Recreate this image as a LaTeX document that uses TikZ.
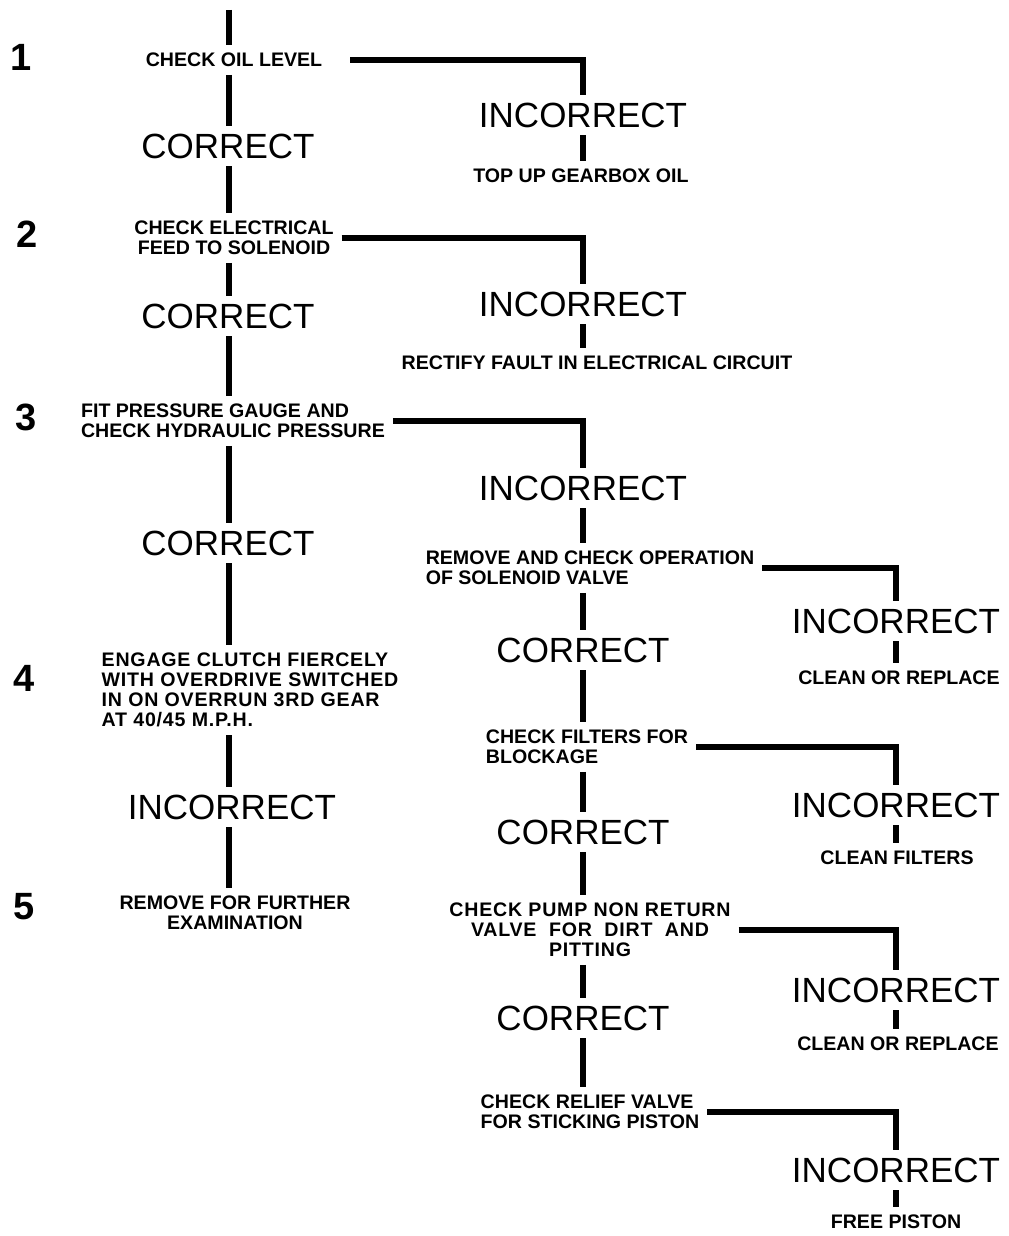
\documentclass[tikz,border=0pt]{standalone}
\usepackage{fontspec}
\setmainfont{Liberation Sans}
\begin{document}
\begin{tikzpicture}[x=0.5pt,y=-0.5pt,
    test/.style={font=\bfseries\fontsize{9.8}{10}\selectfont,align=center,inner sep=0pt,outer sep=4pt},
    testl/.style={test,align=left},
    wide/.style={font=\bfseries\fontsize{9.8}{10}\selectfont\addfontfeature{LetterSpace=4}},
    answer/.style={font=\fontsize{17.5}{18}\selectfont,inner sep=0pt,outer sep=4pt},
    stepno/.style={font=\bfseries\fontsize{19}{19}\selectfont,inner sep=0pt},
    wire/.style={line width=3.4pt}]
    \useasboundingbox (0,0) rectangle (1008,1236);
    % step numbers
    \node[stepno] (n1) at (21,57) {1};
    \node[stepno] (n2) at (27,234) {2};
    \node[stepno] (n3) at (26,417) {3};
    \node[stepno] (n4) at (24,678) {4};
    \node[stepno] (n5) at (24,907) {5};
    % main column
    \coordinate (top) at (229,10);
    \node[test] (s1) at (234,60) {CHECK OIL LEVEL};
    \node[answer] (c1) at (228,146) {CORRECT};
    \node[test] (s2) at (234,238) {CHECK ELECTRICAL\\FEED TO SOLENOID};
    \node[answer] (c2) at (228,316) {CORRECT};
    \node[testl] (s3) at (233,421) {FIT PRESSURE GAUGE AND\\CHECK HYDRAULIC PRESSURE};
    \node[answer] (c3) at (228,543) {CORRECT};
    \node[testl,wide] (s4) at (250,690) {ENGAGE CLUTCH FIERCELY\\WITH OVERDRIVE SWITCHED\\IN ON OVERRUN 3RD GEAR\\AT 40/45 M.P.H.};
    \node[answer] (c4) at (232,807) {INCORRECT};
    \node[test] (s5) at (235,913) {REMOVE FOR FURTHER\\EXAMINATION};
    % second column
    \node[answer] (i1) at (583,115) {INCORRECT};
    \node[test] (r1) at (581,176) {TOP UP GEARBOX OIL};
    \node[answer] (i2) at (583,304) {INCORRECT};
    \node[test] (r2) at (597,363) {RECTIFY FAULT IN ELECTRICAL CIRCUIT};
    \node[answer] (i3) at (583,488) {INCORRECT};
    \node[testl] (s6) at (590,568) {REMOVE AND CHECK OPERATION\\OF SOLENOID VALVE};
    \node[answer] (c6) at (583,650) {CORRECT};
    \node[testl] (s7) at (587,747) {CHECK FILTERS FOR\\BLOCKAGE};
    \node[answer] (c7) at (583,832) {CORRECT};
    \node[test,wide] (s8) at (590,930) {CHECK PUMP NON RETURN\\VALVE\ \ FOR\ \ DIRT\ \ AND\\PITTING};
    \node[answer] (c8) at (583,1018) {CORRECT};
    \node[testl] (s9) at (590,1112) {CHECK RELIEF VALVE\\FOR STICKING PISTON};
    % third column
    \node[answer] (i6) at (896,621) {INCORRECT};
    \node[test] (r6) at (899,678) {CLEAN OR REPLACE};
    \node[answer] (i7) at (896,805) {INCORRECT};
    \node[test] (r7) at (897,858) {CLEAN FILTERS};
    \node[answer] (i8) at (896,990) {INCORRECT};
    \node[test] (r8) at (898,1044) {CLEAN OR REPLACE};
    \node[answer] (i9) at (896,1170) {INCORRECT};
    \node[test] (r9) at (896,1222) {FREE PISTON};
    % main line
    \draw[wire] (top) -- (top |- s1.north);
    \draw[wire] (top |- s1.south) -- (top |- c1.north);
    \draw[wire] (top |- c1.south) -- (top |- s2.north);
    \draw[wire] (top |- s2.south) -- (top |- c2.north);
    \draw[wire] (top |- c2.south) -- (top |- s3.north);
    \draw[wire] (top |- s3.south) -- (top |- c3.north);
    \draw[wire] (top |- c3.south) -- (top |- s4.north);
    \draw[wire] (top |- s4.south) -- (top |- c4.north);
    \draw[wire] (top |- c4.south) -- (top |- s5.north);
    % branches to the right
    \draw[wire] ([xshift=10pt]s1.east) -| (i1.north);
    \draw[wire] (i1.south) -- (i1.south |- r1.north);
    \draw[wire] (s2.east) -| (i2.north);
    \draw[wire] (i2.south) -- (i2.south |- r2.north);
    \draw[wire] (s3.east) -| (i3.north);
    \draw[wire] (i3.south) -- (i3.south |- s6.north);
    \draw[wire] (i3 |- s6.south) -- (c6.north);
    \draw[wire] (c6.south) -- (c6 |- s7.north);
    \draw[wire] (c6 |- s7.south) -- (c7.north);
    \draw[wire] (c7.south) -- (c7 |- s8.north);
    \draw[wire] (c7 |- s8.south) -- (c8.north);
    \draw[wire] (c8.south) -- (c8 |- s9.north);
    \draw[wire] (s6.east) -| (i6.north);
    \draw[wire] (i6.south) -- (i6.south |- r6.north);
    \draw[wire] (s7.east) -| (i7.north);
    \draw[wire] (i7.south) -- (i7.south |- r7.north);
    \draw[wire] (s8.east) -| (i8.north);
    \draw[wire] (i8.south) -- (i8.south |- r8.north);
    \draw[wire] (s9.east) -| (i9.north);
    \draw[wire] (i9.south) -- (i9.south |- r9.north);
\end{tikzpicture}
\end{document}
